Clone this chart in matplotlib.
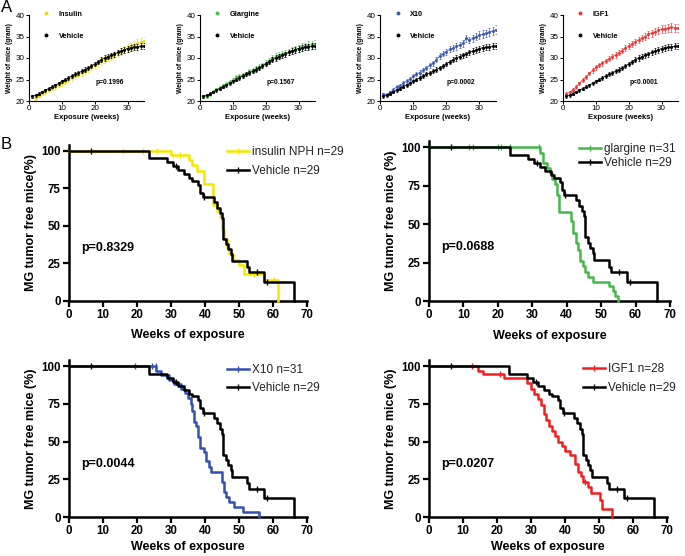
import numpy as np
import matplotlib
matplotlib.use('Agg')
import matplotlib.pyplot as plt
from matplotlib.lines import Line2D

plt.rcParams['font.family'] = ['Liberation Sans', 'DejaVu Sans']

# ---------------- Panel A data (body weight, gram) ----------------
weeks = [1, 2, 3, 4, 5, 6, 7, 8, 9, 10, 11, 12, 13, 14, 15, 16, 17, 18,
         19, 20, 21, 22, 23, 24, 25, 26, 27, 28, 29, 30, 31, 32, 33, 34, 35]

vehicle_wt = [21.1, 21.3, 21.7, 22.1, 22.5, 22.9, 23.3, 23.7, 24.1, 24.6, 25.0, 25.4,
              25.8, 26.2, 26.5, 26.9, 27.3, 27.7, 28.1, 28.6, 29.1, 29.6, 30.0, 30.3,
              30.6, 30.9, 31.3, 31.6, 31.9, 32.2, 32.4, 32.5, 32.6, 32.7, 32.8]
vehicle_sem = [0.3, 0.3, 0.3, 0.3, 0.3, 0.35, 0.35, 0.35, 0.4, 0.4, 0.4, 0.4, 0.45,
               0.45, 0.45, 0.5, 0.5, 0.5, 0.5, 0.55, 0.55, 0.55, 0.6, 0.6, 0.6, 0.6,
               0.65, 0.65, 0.65, 0.7, 0.7, 0.7, 0.7, 0.7, 0.7]

insulin_wt = [21.0, 20.6, 21.2, 21.7, 22.1, 22.5, 22.9, 23.3, 23.7, 24.1, 24.5, 24.9,
              25.3, 25.7, 26.1, 26.5, 26.9, 27.4, 27.8, 28.3, 28.8, 29.2, 29.6, 30.0,
              30.4, 30.7, 31.1, 31.5, 31.9, 32.3, 32.7, 33.1, 33.4, 33.7, 34.0]
glargine_wt = [21.0, 21.1, 21.6, 22.2, 22.7, 23.1, 23.6, 24.0, 24.4, 24.9, 25.6, 25.7,
               26.0, 26.3, 26.9, 27.0, 27.5, 27.9, 28.3, 28.8, 29.3, 29.9, 30.3, 30.6,
               30.8, 31.1, 31.4, 31.7, 32.0, 32.2, 32.5, 32.7, 33.0, 33.1, 33.3]
x10_wt = [21.6, 21.5, 22.0, 22.6, 23.3, 23.6, 24.1, 24.6, 25.1, 25.7, 26.2, 26.6,
          27.2, 27.7, 28.3, 28.8, 29.6, 30.5, 31.0, 31.5, 32.0, 32.3, 32.7, 33.0,
          33.4, 34.6, 34.2, 34.6, 35.0, 35.3, 35.5, 35.7, 36.0, 36.3, 36.6]
igf1_wt = [21.7, 22.0, 22.6, 23.3, 24.1, 24.9, 25.6, 26.4, 27.1, 27.8, 28.3, 28.8,
           29.3, 29.8, 30.3, 30.7, 31.2, 31.7, 32.3, 32.8, 33.3, 33.8, 34.2, 34.6,
           35.0, 35.5, 35.8, 36.1, 36.4, 36.7, 36.8, 36.9, 37.1, 37.0, 37.0]
treat_sem = [0.35, 0.35, 0.35, 0.4, 0.4, 0.4, 0.45, 0.45, 0.5, 0.5, 0.5, 0.55, 0.55,
             0.55, 0.6, 0.6, 0.6, 0.65, 0.65, 0.7, 0.7, 0.7, 0.75, 0.75, 0.8, 0.8,
             0.8, 0.85, 0.85, 0.9, 0.9, 0.9, 0.95, 0.95, 1.0]

weight_groups = ['Insulin', 'Glargine', 'X10', 'IGF1']
weight_series = [insulin_wt, glargine_wt, x10_wt, igf1_wt]
weight_p = ['p=0.1996', 'p=0.1567', 'p=0.0002', 'p<0.0001']
weight_colors = ['#e6dc10', '#4dbb4d', '#3a56b4', '#f03232']

# ---------------- Panel B data (Kaplan-Meier, % tumor free) ----------------
veh_t = [0, 23.4, 28.8, 30.6, 32.2, 33.8, 35.4, 36.3, 38.0, 38.6, 39.3, 42.6, 43.6,
         44.3, 44.9, 45.2, 46.3, 46.9, 47.5, 48.0, 52.3, 53.0, 57.4, 66.2]
veh_s = [100, 94.8, 92.3, 89.7, 87.0, 84.4, 81.8, 80.0, 77.4, 72.0, 68.9, 65.5, 62.0,
         58.6, 55.1, 41.4, 38.0, 34.5, 31.0, 26.7, 22.2, 18.8, 12.6, 0]
veh_cens = [6.5, 31.5, 39.6, 55.3, 58.3]

ins_t = [0, 30.0, 35.2, 36.3, 37.5, 39.7, 42.4, 43.4, 44.3, 45.0, 45.7, 46.4, 47.2,
         48.2, 50.0, 51.5, 57.4, 61.5]
ins_s = [100, 97.3, 94.1, 90.5, 86.3, 77.8, 64.0, 60.0, 56.0, 48.0, 41.0, 36.0, 31.0,
         27.0, 24.0, 18.0, 13.5, 0]
ins_cens = [16.0, 21.8, 25.9, 32.5, 54.4, 60.2]

gla_t = [0, 32.3, 33.2, 34.2, 35.0, 35.8, 36.5, 37.2, 37.9, 41.2, 41.9, 42.6, 43.3,
         44.0, 44.6, 45.3, 46.3, 47.7, 52.4, 53.3, 54.1, 54.8]
gla_s = [100, 96.5, 90.0, 86.5, 83.0, 79.5, 76.0, 69.0, 58.0, 52.0, 44.0, 38.0, 33.0,
         26.0, 22.5, 19.0, 15.8, 12.6, 9.5, 6.3, 3.2, 0]
gla_cens = [11.7, 12.8, 20.0, 21.0, 23.5, 31.9]

x10_t = [0, 25.7, 27.2, 29.5, 31.0, 33.0, 34.2, 35.0, 35.8, 36.3, 36.8, 37.3, 38.0,
         38.6, 39.8, 40.4, 41.2, 41.9, 45.0, 45.5, 46.2, 47.0, 48.5, 51.2, 55.8]
x10_s = [100, 97.0, 94.0, 91.0, 88.0, 85.0, 82.0, 79.0, 75.0, 70.0, 63.0, 60.0, 53.0,
         46.0, 43.0, 37.0, 33.0, 29.5, 23.0, 16.5, 13.0, 9.8, 6.5, 3.2, 0]
x10_cens = [19.5, 24.5, 25.5]

igf_t = [0, 14.5, 16.0, 22.0, 28.8, 30.0, 31.0, 32.0, 33.0, 33.8, 34.4, 35.2, 36.2,
         37.0, 38.0, 39.0, 40.0, 41.4, 43.0, 43.8, 44.6, 45.4, 46.8, 47.6, 50.3, 51.0,
         53.9]
igf_s = [100, 97.0, 94.5, 92.0, 88.5, 85.0, 81.5, 78.0, 74.5, 68.0, 64.0, 60.5, 57.0,
         53.5, 50.0, 47.0, 44.0, 41.0, 35.0, 30.0, 27.0, 23.5, 20.0, 16.0, 11.0, 5.0, 0]
igf_cens = [12.5, 21.0, 46.0]

km_labels = ['insulin NPH n=29', 'glargine n=31', 'X10 n=31', 'IGF1 n=28']
km_colors = ['#f5e800', '#45b84a', '#3450b4', '#f02020']
km_series = [(ins_t, ins_s, ins_cens), (gla_t, gla_s, gla_cens),
             (x10_t, x10_s, x10_cens), (igf_t, igf_s, igf_cens)]
km_p = ['p=0.8329', 'p=0.0688', 'p=0.0044', 'p=0.0207']
km_ylabels = ['MG tumor free mice(%)', 'MG tumor free mice (%)',
              'MG tumor free mice (%)', 'MG tumor free mice (%)']

# ---------------- Figure ----------------
W, H = 685, 556
fig = plt.figure(figsize=(W / 100, H / 100), dpi=100)


def ax_px(x0, x1, ytop, ybot):
    return fig.add_axes([x0 / W, 1 - ybot / H, (x1 - x0) / W, (ybot - ytop) / H])


# Panel A
top_x = [(29, 144), (200, 315), (380, 496), (563, 678)]
for i, (x0, x1) in enumerate(top_x):
    ax = ax_px(x0, x1, 15, 101)
    c = weight_colors[i]
    ax.errorbar(weeks, vehicle_wt, yerr=vehicle_sem, fmt='-o', color='black',
                ms=1.2, lw=0.6, elinewidth=0.5, capsize=1.0, capthick=0.5, zorder=3)
    ax.errorbar(weeks, weight_series[i], yerr=treat_sem, fmt='-o', color=c,
                ecolor=c, ms=1.2, lw=0.6, elinewidth=0.5, capsize=1.0, capthick=0.5,
                alpha=0.9, zorder=2)
    ax.set_xlim(0, 35)
    ax.set_ylim(20, 40)
    ax.set_xticks([0, 10, 20, 30])
    ax.set_yticks([20, 25, 30, 35, 40])
    for s in ['top', 'right']:
        ax.spines[s].set_visible(False)
    for s in ['left', 'bottom']:
        ax.spines[s].set_linewidth(0.8)
    ax.tick_params(labelsize=5.8, length=2, width=0.7, pad=1)
    ax.set_ylabel('Weight of mice (gram)', fontsize=4.8, fontweight='bold', labelpad=2)
    ax.set_xlabel('Exposure (weeks)', fontsize=5.5, fontweight='bold', labelpad=1)
    ax.text(0.70, 0.22, weight_p[i], transform=ax.transAxes, fontsize=4.8,
            fontweight='bold', ha='center', va='center')
    handles = [Line2D([], [], ls='none', marker='o', ms=1.8, color=c),
               Line2D([], [], ls='none', marker='o', ms=1.8, color='black')]
    ax.legend(handles, [weight_groups[i], 'Vehicle'], loc='upper left',
              bbox_to_anchor=(0.12, 1.05), frameon=False, handlelength=1.0,
              handletextpad=1.2, labelspacing=2.0, borderpad=0, borderaxespad=0,
              prop={'size': 5.3, 'weight': 'bold'})

fig.text(1 / W, 1 - 8 / H, 'A', fontsize=12, ha='left', va='center')
fig.text(1 / W, 1 - 145 / H, 'B', fontsize=12, ha='left', va='center')

# Panel B
bottom_specs = [
    (69, 307, 144.7, 300.7, 0.664, 0.99, 0.6, 6),
    (429, 670, 141, 301, 0.622, 0.985, 0.15, 6),
    (69, 307, 360, 517, 0.664, 0.975, 0.55, 2.5),
    (429, 667, 360, 517, 0.647, 0.98, 0.6, 2.5),
]
for i, (x0, x1, yt, yb, lx, ly, lsp, lpad) in enumerate(bottom_specs):
    ax = ax_px(x0, x1, yt, yb)
    c = km_colors[i]
    t, s, cens = km_series[i]
    ax.step(t, s, where='post', color=c, lw=1.8, clip_on=False, zorder=3)
    cy = [s[np.searchsorted(t, ct, side='right') - 1] for ct in cens]
    ax.plot(cens, cy, ls='none', marker='|', ms=4.5, mew=1.0, color=c,
            clip_on=False, zorder=3)
    ax.step(veh_t, veh_s, where='post', color='black', lw=1.8, clip_on=False, zorder=4)
    vy = [veh_s[np.searchsorted(veh_t, ct, side='right') - 1] for ct in veh_cens]
    ax.plot(veh_cens, vy, ls='none', marker='|', ms=4.5, mew=1.0, color='black',
            clip_on=False, zorder=4)
    ax.set_xlim(0, 70)
    ax.set_ylim(0, 104)
    ax.set_xticks([0, 10, 20, 30, 40, 50, 60, 70])
    ax.set_yticks([0, 25, 50, 75, 100])
    for sp in ['top', 'right']:
        ax.spines[sp].set_visible(False)
    for sp in ['left', 'bottom']:
        ax.spines[sp].set_linewidth(1.8)
    ax.tick_params(length=4, width=1.6, labelsize=8.3, pad=2)
    for lab in ax.get_xticklabels() + ax.get_yticklabels():
        lab.set_fontweight('bold')
    ax.set_ylabel(km_ylabels[i], fontsize=9, fontweight='bold', labelpad=3)
    ax.set_xlabel('Weeks of exposure', fontsize=9, fontweight='bold', labelpad=lpad)
    ax.text(3.5, 35, km_p[i], fontsize=9, fontweight='bold', ha='left', va='center')
    handles = [Line2D([], [], color=c, lw=1.8, marker='|', ms=4.5, mew=1.0),
               Line2D([], [], color='black', lw=1.8, marker='|', ms=4.5, mew=1.0)]
    leg = ax.legend(handles, [km_labels[i], 'Vehicle n=29'], loc='upper left',
                    bbox_to_anchor=(lx, ly), frameon=False, fontsize=8.5,
                    handlelength=1.9, handletextpad=0.25, labelspacing=lsp,
                    borderpad=0, borderaxespad=0)
    for tx in leg.get_texts():
        tx.set_color('#222222')

fig.savefig('out.png', dpi=100)
